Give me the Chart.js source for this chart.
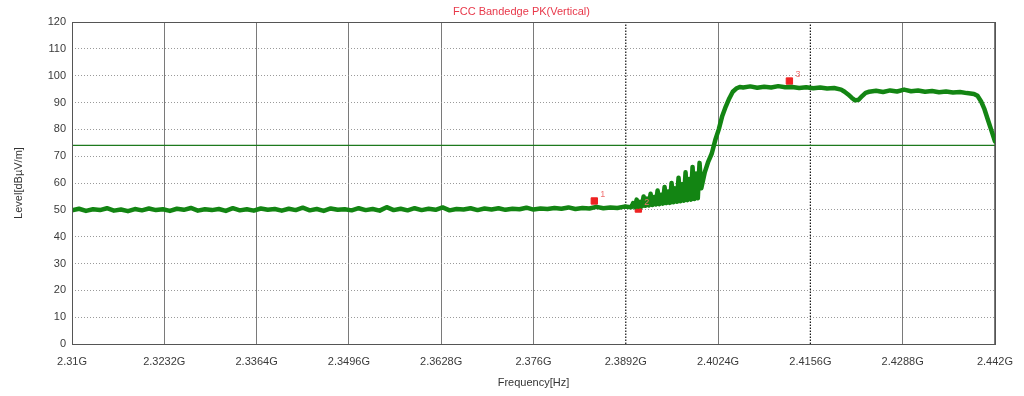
<!DOCTYPE html>
<html>
<head>
<meta charset="utf-8">
<script src="https://cdn.jsdelivr.net/npm/chart.js@4.4.1/dist/chart.umd.min.js"></script>
<style>
  html, body { margin: 0; padding: 0; background: #fff; }
  #wrap { width: 1024px; height: 396px; position: relative; }
</style>
</head>
<body>
<div id="wrap"><canvas id="c" width="1024" height="396"></canvas></div>
<script>
'use strict';

/* FCC bandedge peak sweep, vertical polarisation. Frequencies in GHz, levels in dBuV/m. */

const xTickValues = [2.31, 2.3232, 2.3364, 2.3496, 2.3628, 2.376, 2.3892, 2.4024, 2.4156, 2.4288, 2.442];
const xTickLabels = ['2.31G', '2.3232G', '2.3364G', '2.3496G', '2.3628G', '2.376G', '2.3892G', '2.4024G', '2.4156G', '2.4288G', '2.442G'];
const yTickValues = [0, 10, 20, 30, 40, 50, 60, 70, 80, 90, 100, 110, 120];

// dotted vertical lines drawn over ticks 2.3892G and 2.4156G
const dottedFreqs = [2.3892, 2.4156];
const limitLevel = 74;

const traceFreq = [
  2.310, 2.311, 2.312, 2.313, 2.314, 2.315, 2.316, 2.317, 2.318, 2.319,
  2.320, 2.321, 2.322, 2.323, 2.324, 2.325, 2.326, 2.327, 2.328, 2.329,
  2.330, 2.331, 2.332, 2.333, 2.334, 2.335, 2.336, 2.337, 2.338, 2.339,
  2.340, 2.341, 2.342, 2.343, 2.344, 2.345, 2.346, 2.347, 2.348, 2.349,
  2.350, 2.351, 2.352, 2.353, 2.354, 2.355, 2.356, 2.357, 2.358, 2.359,
  2.360, 2.361, 2.362, 2.363, 2.364, 2.365, 2.366, 2.367, 2.368, 2.369,
  2.370, 2.371, 2.372, 2.373, 2.374, 2.375, 2.376, 2.377, 2.378, 2.379,
  2.380, 2.381, 2.382, 2.383, 2.384, 2.385, 2.386, 2.387, 2.388, 2.389,
  2.390,
  2.39025, 2.3905, 2.39075, 2.391, 2.39125, 2.3915, 2.39175, 2.392, 2.39225, 2.3925,
  2.39275, 2.393, 2.39325, 2.3935, 2.39375, 2.394, 2.39425, 2.3945, 2.39475, 2.395,
  2.39525, 2.3955, 2.39575, 2.396, 2.39625, 2.3965, 2.39675, 2.397, 2.39725, 2.3975,
  2.39775, 2.398, 2.39825, 2.3985, 2.39875, 2.399, 2.39925, 2.3995, 2.39975,
  2.400, 2.4005, 2.401, 2.4015, 2.402, 2.4025, 2.403, 2.4035, 2.404, 2.4045, 2.405, 2.4055,
  2.406, 2.407, 2.408, 2.409, 2.410, 2.411, 2.412, 2.413, 2.414, 2.415, 2.416, 2.417, 2.418, 2.419,
  2.420, 2.4205, 2.421, 2.4215, 2.422, 2.4225, 2.423, 2.4235, 2.424,
  2.425, 2.426, 2.427, 2.428, 2.429, 2.430, 2.431, 2.432, 2.433, 2.434, 2.435, 2.436, 2.437, 2.438, 2.439,
  2.4395, 2.440, 2.4405, 2.441, 2.4415, 2.442,
];

const traceLevel = [
  49.8, 50.4, 49.6, 50.2, 49.9, 50.6, 49.7, 50.1, 49.5, 50.3,
  49.8, 50.5, 49.9, 50.2, 49.6, 50.4, 50.0, 50.7, 49.7, 50.2,
  49.9, 50.3, 49.6, 50.6, 49.8, 50.2, 49.7, 50.5, 50.0, 50.3,
  49.7, 50.4, 49.9, 50.8, 49.8, 50.3, 49.6, 50.5, 50.0, 50.2,
  49.8, 50.6, 49.9, 50.3, 49.7, 51.0, 49.9, 50.4, 49.8, 50.6,
  49.9, 50.4, 50.0, 50.9, 49.8, 50.3, 50.1, 50.6, 49.9, 50.5,
  50.1, 50.6, 50.0, 50.4, 50.2, 50.8, 50.1, 50.5, 50.3, 50.7,
  50.4, 50.9, 50.3, 50.7, 50.5, 51.1, 50.6, 50.9, 50.7, 51.2,
  51.0,
  52.5, 51.0, 53.8, 51.2, 53.0, 51.3, 55.0, 51.5, 54.2, 51.6,
  56.0, 51.8, 54.8, 52.0, 57.2, 52.1, 55.6, 52.3, 58.5, 52.5,
  56.8, 52.6, 60.0, 52.8, 58.0, 53.0, 62.0, 53.2, 59.5, 53.4,
  64.0, 53.6, 61.5, 53.8, 66.0, 54.0, 63.5, 54.3, 67.5,
  58.0, 64.0, 68.0, 71.0, 76.0, 80.0, 85.0, 88.5, 91.5, 94.0, 95.2, 95.8,
  95.6, 96.0, 95.5, 95.9, 95.6, 96.1, 95.7, 95.8, 95.4, 95.7, 95.3, 95.6, 95.2, 95.4,
  94.8, 94.0, 93.0, 91.8, 90.8, 91.0, 92.4, 93.6, 94.0,
  94.4, 93.9, 94.5, 94.1, 94.8, 94.2, 94.5, 94.0, 94.3, 93.8, 94.1, 93.7, 93.9, 93.5, 93.2,
  92.5, 90.5, 87.5, 83.5, 79.5, 75.5,
];

const markerFreq = [2.3847, 2.3910, 2.4126];
const markerLevel = [53.3, 50.3, 98.0];
const markerLabels = ['1', '2', '3'];

const FONT = '"Liberation Sans", Arial, sans-serif';
const zip = (xs, ys) => xs.map((x, i) => ({ x, y: ys[i] }));

// ---------------------------------------------------------------- plugins
const frame = {
  id: 'frame',
  afterDatasetsDraw(chart) {
    const { ctx, chartArea: a } = chart;
    ctx.save();
    ctx.strokeStyle = '#555';
    ctx.lineWidth = 1;
    ctx.strokeRect(Math.round(a.left) + 0.5, Math.round(a.top) + 0.5, Math.round(a.right - a.left), Math.round(a.bottom - a.top));
    ctx.restore();
  },
};

const markerText = {
  id: 'markerText',
  afterDatasetsDraw(chart) {
    const meta = chart.getDatasetMeta(chart.data.datasets.length - 1);
    const ctx = chart.ctx;
    ctx.save();
    ctx.fillStyle = '#f07070';
    ctx.font = '9px ' + FONT;
    meta.data.forEach((p, i) => ctx.fillText(markerLabels[i], p.x + 6, p.y - 4));
    // title
    const a = chart.chartArea;
    ctx.fillStyle = '#e8384a';
    ctx.font = '11px ' + FONT;
    ctx.textAlign = 'center';
    ctx.textBaseline = 'middle';
    ctx.fillText('FCC Bandedge PK(Vertical)', (a.left + a.right) / 2 - 12, a.top - 10);
    ctx.restore();
  },
};

// ---------------------------------------------------------------- chart
const datasets = [
  {
    label: 'trace', data: zip(traceFreq, traceLevel), showLine: true,
    borderColor: '#138513', borderWidth: 4.5, borderJoinStyle: 'round', borderCapStyle: 'round',
    pointRadius: 0, tension: 0,
  },
  {
    label: 'limit', data: [{ x: 2.31, y: limitLevel }, { x: 2.442, y: limitLevel }], showLine: true,
    borderColor: '#1d7a1d', borderWidth: 1.2, pointRadius: 0,
  },
  ...dottedFreqs.map((f) => ({
    label: 'dotted', data: [{ x: f, y: 0 }, { x: f, y: 120 }], showLine: true,
    borderColor: '#111', borderWidth: 1.2, borderDash: [1.5, 1.5], pointRadius: 0,
  })),
  {
    label: 'markers', data: zip(markerFreq, markerLevel), showLine: false,
    pointStyle: 'rect', pointRadius: 4.5, backgroundColor: '#ee2222', borderColor: '#ee2222',
  },
];

new Chart(document.getElementById('c'), {
  type: 'scatter',
  data: { datasets },
  plugins: [frame, markerText],
  options: {
    responsive: false, animation: false,
    layout: { padding: { left: 0, right: 26, top: 22, bottom: 0 } },
    plugins: { legend: { display: false }, tooltip: { enabled: false } },
    scales: {
      x: {
        type: 'linear', min: 2.31, max: 2.442,
        afterBuildTicks: (s) => { s.ticks = xTickValues.map((v) => ({ value: v })); },
        afterFit: (s) => { s.height = 52; },
        ticks: {
          color: '#3a3a3a', font: { family: FONT, size: 11 }, padding: 11, maxRotation: 0, autoSkip: false,
          callback: (v, i) => xTickLabels[i],
        },
        grid: {
          drawTicks: false, lineWidth: 1,
          color: (c) => (c.index === 6 || c.index === 8) ? 'rgba(0,0,0,0)' : '#7a7a7a',
        },
        border: { display: false },
        title: { display: true, text: 'Frequency[Hz]', color: '#333', font: { family: FONT, size: 11 }, padding: { top: 0, bottom: 6 } },
      },
      y: {
        min: 0, max: 120,
        afterBuildTicks: (s) => { s.ticks = yTickValues.map((v) => ({ value: v })); },
        afterFit: (s) => { s.width = 72; },
        ticks: { color: '#3a3a3a', font: { family: FONT, size: 11 }, padding: 6 },
        grid: { drawTicks: false, color: '#9a9a9a', lineWidth: 1 },
        border: { display: false, dash: [1, 2] },
        title: { display: true, text: 'Level[dBµV/m]', color: '#333', font: { family: FONT, size: 11 }, padding: { top: 12, bottom: 0 } },
      },
    },
  },
});
</script>
</body>
</html>
